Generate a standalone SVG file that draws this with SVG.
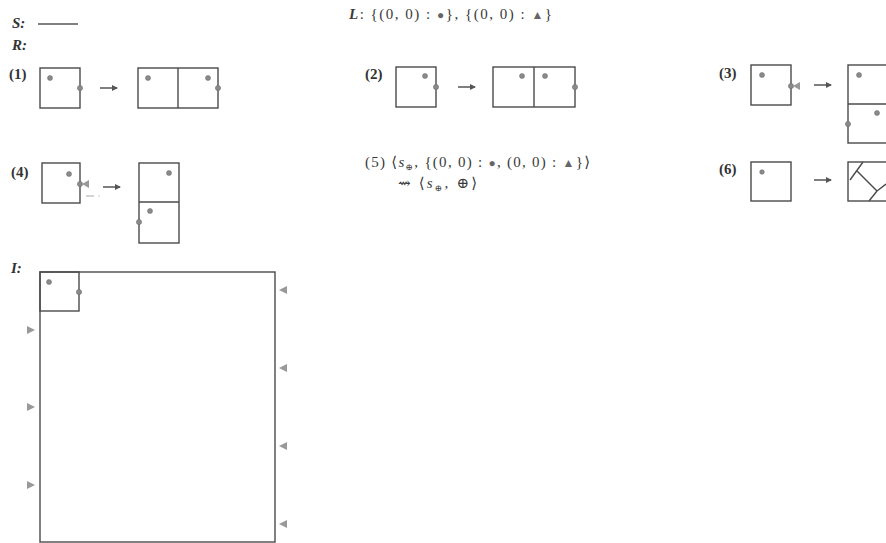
<svg xmlns="http://www.w3.org/2000/svg" width="886" height="543" viewBox="0 0 886 543">
<style>
.box{fill:none;stroke:#4a4a4a;stroke-width:1.4}
.dot{fill:#8a8a8a;stroke:#666;stroke-width:0.5}
.tri{fill:#999}
.lbl{font-family:"Liberation Serif","DejaVu Serif",serif;font-size:15px;fill:#333;font-weight:bold}
.it{font-family:"Liberation Serif","DejaVu Serif",serif;font-size:15px;fill:#333;font-weight:bold;font-style:italic}
.txt{font-family:"Liberation Serif","DejaVu Serif",serif;font-size:15px;fill:#3a3a3a}
.sym{font-size:12px;fill:#666}
.arr{stroke:#555;stroke-width:1.5;fill:none}
</style>
<defs>
<marker id="ah" markerWidth="6" markerHeight="6" refX="5" refY="3" orient="auto" markerUnits="userSpaceOnUse">
<path d="M0,0 L6,3 L0,6 Z" fill="#555"/>
</marker>
</defs>
<rect width="886" height="543" fill="#fff"/>

<g id="headers">
<text class="it" x="12" y="28">S:</text>
<line x1="38" y1="24" x2="78" y2="24" stroke="#555" stroke-width="1.6"/>
<text class="it" x="12" y="50">R:</text>
<text class="txt" x="349" y="19" textLength="203" lengthAdjust="spacing"><tspan font-style="italic" font-weight="bold">L</tspan>:  {(0, 0) : <tspan class="sym">●</tspan>}, {(0, 0) : <tspan class="sym">▲</tspan>}</text>
</g>

<g id="rule1">
<text class="lbl" x="9" y="79">(1)</text>
<rect class="box" x="40" y="68" width="40" height="40"/>
<circle class="dot" cx="50" cy="78" r="2.5"/>
<circle class="dot" cx="80" cy="88" r="2.6"/>
<rect class="box" x="138" y="68" width="80" height="40"/>
<line class="box" x1="178" y1="68" x2="178" y2="108"/>
<circle class="dot" cx="148" cy="78" r="2.5"/>
<circle class="dot" cx="208" cy="78" r="2.5"/>
<circle class="dot" cx="218" cy="88" r="2.6"/>
</g>

<g id="rule2">
<text class="lbl" x="365" y="79">(2)</text>
<rect class="box" x="396" y="67" width="40" height="40"/>
<circle class="dot" cx="425" cy="76" r="2.5"/>
<circle class="dot" cx="436" cy="87" r="2.6"/>
<rect class="box" x="493" y="67" width="82" height="40"/>
<line class="box" x1="534" y1="67" x2="534" y2="107"/>
<circle class="dot" cx="522" cy="76" r="2.5"/>
<circle class="dot" cx="545" cy="76" r="2.5"/>
<circle class="dot" cx="575" cy="87" r="2.6"/>
</g>

<g id="rule3">
<text class="lbl" x="719" y="78">(3)</text>
<rect class="box" x="751" y="65" width="40" height="40"/>
<circle class="dot" cx="762" cy="75" r="2.5"/>
<circle class="dot" cx="791" cy="86" r="2.6"/>
<polygon class="tri" points="793,86 800,82 800,90"/>
<rect class="box" x="848" y="65" width="42" height="78"/>
<line class="box" x1="848" y1="104" x2="890" y2="104"/>
<circle class="dot" cx="859" cy="75" r="2.5"/>
<circle class="dot" cx="877" cy="113" r="2.5"/>
<circle class="dot" cx="848" cy="124" r="2.6"/>
</g>

<g id="rule4">
<text class="lbl" x="11" y="177">(4)</text>
<rect class="box" x="42" y="163" width="38" height="40"/>
<circle class="dot" cx="69" cy="174" r="2.5"/>
<circle class="dot" cx="80" cy="184" r="2.6"/>
<polygon class="tri" points="82,184 89,180 89,188"/>
<line x1="86" y1="196" x2="94" y2="196" stroke="#aaa" stroke-width="1"/>
<line x1="98" y1="196" x2="100" y2="196" stroke="#ccc" stroke-width="1"/>
<rect class="box" x="139" y="163" width="40" height="80"/>
<line class="box" x1="139" y1="202" x2="179" y2="202"/>
<circle class="dot" cx="169" cy="173" r="2.5"/>
<circle class="dot" cx="150" cy="211" r="2.5"/>
<circle class="dot" cx="139" cy="222" r="2.6"/>
</g>

<g id="rule5">
<text class="txt" x="365" y="167" textLength="225" lengthAdjust="spacing">(5)  ⟨<tspan font-style="italic">s</tspan><tspan font-size="9" dy="3">⊕</tspan><tspan dy="-3">, {(0, 0) : </tspan><tspan class="sym">●</tspan>, (0, 0) : <tspan class="sym">▲</tspan>}⟩</text>
<text class="txt" x="398" y="188" textLength="79" lengthAdjust="spacing">⇝ ⟨<tspan font-style="italic">s</tspan><tspan font-size="9" dy="3">⊕</tspan><tspan dy="-3">, ⊕⟩</tspan></text>
</g>

<g id="rule6">
<text class="lbl" x="719" y="174">(6)</text>
<rect class="box" x="751" y="162" width="40" height="39"/>
<circle class="dot" cx="762" cy="172" r="2.3"/>
<rect class="box" x="848" y="162" width="42" height="39"/>
<polyline class="box" points="863,162 850,180"/>
<polyline class="box" points="857,171 877,191"/>
<polyline class="box" points="877,191 886,184"/>
<polyline class="box" points="877,191 869,201"/>
</g>

<g id="initial">
<text class="it" x="11" y="273">I:</text>
<rect class="box" x="40" y="272" width="235" height="270"/>
<rect class="box" x="40" y="272" width="39" height="39"/>
<circle class="dot" cx="49" cy="282" r="2.5"/>
<circle class="dot" cx="79" cy="292" r="2.6"/>
<polygon class="tri" points="27,326 35,330 27,334"/>
<polygon class="tri" points="27,403 35,407 27,411"/>
<polygon class="tri" points="27,481 35,485 27,489"/>
<polygon class="tri" points="287,286 279,290 287,294"/>
<polygon class="tri" points="287,364 279,368 287,372"/>
<polygon class="tri" points="287,442 279,446 287,450"/>
<polygon class="tri" points="287,520 279,524 287,528"/>
</g>

<g id="connectors">
<line class="arr" x1="100" y1="88" x2="117" y2="88" marker-end="url(#ah)"/>
<line class="arr" x1="458" y1="87" x2="475" y2="87" marker-end="url(#ah)"/>
<line class="arr" x1="814" y1="85" x2="831" y2="85" marker-end="url(#ah)"/>
<line class="arr" x1="103" y1="187" x2="120" y2="187" marker-end="url(#ah)"/>
<line class="arr" x1="814" y1="180" x2="831" y2="180" marker-end="url(#ah)"/>
</g>
</svg>
